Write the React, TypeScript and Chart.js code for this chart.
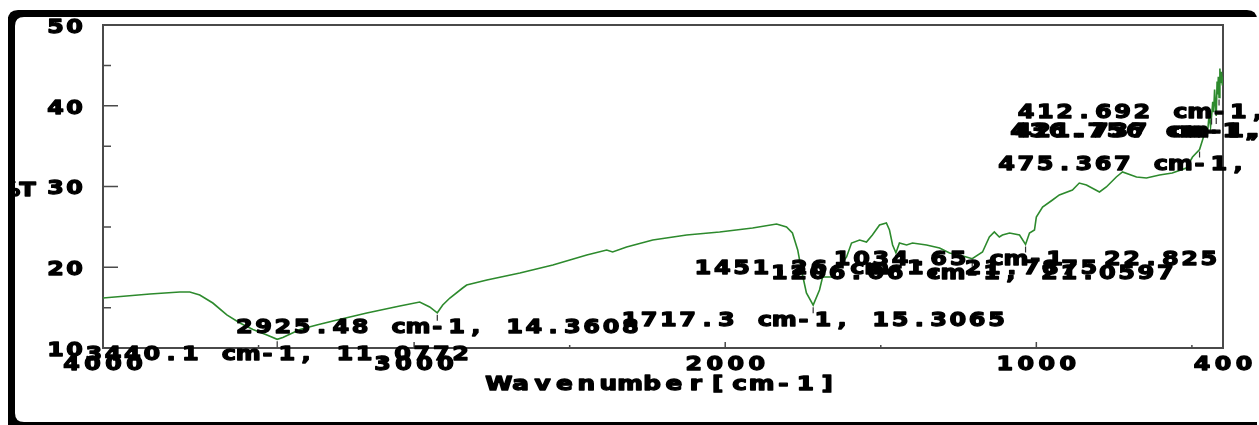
import { useEffect, useRef } from "react";
import { Chart, registerables } from "chart.js";

Chart.register(...registerables);

const W = 1259;
const H = 425;

// IR spectrum, wavenumber (cm-1) against transmittance (%T)
const wavenumbers = [
  4000, 3849, 3753, 3721, 3689, 3647, 3602, 3560, 3518, 3473,
  3440.1, 3422, 3367, 3313, 3261, 3152, 3046, 2982, 2950, 2925.48,
  2908, 2885, 2844, 2831, 2766, 2660, 2554, 2445, 2381, 2362,
  2317, 2233, 2124, 2018, 1912, 1835, 1803, 1784, 1767, 1755,
  1739, 1717.3, 1697, 1687, 1655, 1610, 1594, 1568, 1546, 1527,
  1504, 1482, 1472, 1462, 1451.26, 1440, 1417, 1398, 1353, 1311,
  1279, 1247, 1225, 1206.06, 1173, 1151, 1135, 1119, 1109, 1086,
  1054, 1034.65, 1022, 1006, 1000, 980, 948, 926, 884, 862,
  839, 797, 775, 743, 723, 678, 646, 604, 563, 518,
  498, 475.367, 454, 450, 445, 440, 436.756, 433, 430, 427,
  425, 421.737, 419, 417, 415, 412.692, 410, 408, 405, 402,
  400,
];

const transmittance = [
  16.19, 16.69, 16.93, 16.93, 16.56, 15.57, 14.09, 13.1, 12.3, 11.6,
  11.0772, 11.3, 12.3, 12.85, 13.34, 14.33, 15.2, 15.7, 15.08, 14.3608,
  15.33, 16.19, 17.43, 17.8, 18.42, 19.29, 20.28, 21.52, 22.14, 21.89,
  22.51, 23.37, 23.99, 24.37, 24.86, 25.36, 24.98, 24.24, 22.14, 19.66,
  16.81, 15.3065, 17.18, 18.79, 18.79, 21.27, 23.0, 23.37, 23.13, 23.99,
  25.23, 25.48, 24.61, 22.76, 21.7875, 23.0, 22.76, 23.0, 22.76, 22.38,
  21.76, 21.52, 21.27, 21.0597, 21.89, 23.75, 24.37, 23.75, 23.99, 24.24,
  23.99, 22.825, 24.24, 24.61, 26.22, 27.46, 28.33, 28.95, 29.57, 30.43,
  30.19, 29.32, 29.94, 31.18, 31.8, 31.18, 31.05, 31.42, 31.67, 32.29,
  33.65, 34.5829, 37.2, 36.5, 38.8, 37.4, 38.6712, 40.5, 39.2, 42.0,
  40.6, 38.7347, 43.0, 41.4, 43.6, 41.0213, 44.6, 42.8, 44.2, 42.5,
  43.6,
];

// picked peaks that get a "wavenumber, %T" annotation
const peakWavenumbers = [
  3440.1, 2925.48, 1717.3, 1451.26, 1206.06, 1034.65, 475.367, 436.756, 421.737, 412.692,
];

const xTickValues = [4000, 3000, 2000, 1000, 400];
const xTickLabels = ["4000", "3000", "2000", "1000", "400"];
const xMajorMarks = [3000, 2000, 1000];
const xMinorMarks = [3500, 2500, 1500, 500];
const yTickValues = [10, 20, 30, 40, 50];
const yTickLabels = ["10", "20", "30", "40", "50"];
const yMajorMarks = [20, 30, 40];
const yMinorMarks = [15, 25, 35, 45];
const xAxisTitle = "Wavenumber[cm-1]";
const yAxisTitle = "%T";

const LINE_COLOR = "#2d8a2d";
const AXIS_COLOR = "#4a4a4a";
const TEXT_FONT = "bold 20px 'DejaVu Sans'";
const TICK_FONT = "bold 19px 'DejaVu Sans'";

// Draws heavy text in fixed-width cells, glyphs widened horizontally
function drawSpaced(
  ctx: CanvasRenderingContext2D,
  text: string,
  cx: number,
  cy: number,
  advance: number,
  font: string,
  sx: number
) {
  ctx.save();
  ctx.font = font;
  ctx.fillStyle = "#000";
  ctx.strokeStyle = "#000";
  ctx.lineWidth = 1.3;
  ctx.lineJoin = "round";
  ctx.textAlign = "center";
  ctx.textBaseline = "middle";
  const total = text.length * advance;
  const x0 = cx - total / 2 + advance / 2;
  for (let i = 0; i < text.length; i++) {
    const ch = text[i];
    if (ch === " ") continue;
    ctx.save();
    ctx.translate(x0 + i * advance, cy);
    ctx.scale(sx, 1);
    ctx.fillText(ch, 0, 0);
    ctx.strokeText(ch, 0, 0);
    ctx.restore();
  }
  ctx.restore();
}

function roundRectPath(ctx: CanvasRenderingContext2D, x: number, y: number, w: number, h: number, r: number) {
  ctx.beginPath();
  ctx.moveTo(x + r, y);
  ctx.lineTo(x + w - r, y);
  ctx.quadraticCurveTo(x + w, y, x + w, y + r);
  ctx.lineTo(x + w, y + h - r);
  ctx.quadraticCurveTo(x + w, y + h, x + w - r, y + h);
  ctx.lineTo(x + r, y + h);
  ctx.quadraticCurveTo(x, y + h, x, y + h - r);
  ctx.lineTo(x, y + r);
  ctx.quadraticCurveTo(x, y, x + r, y);
  ctx.closePath();
}

const framePlugin = {
  id: "frame",
  beforeDraw(chart: any) {
    const ctx: CanvasRenderingContext2D = chart.ctx;
    ctx.save();
    ctx.fillStyle = "#fff";
    ctx.fillRect(0, 0, W, H);
    ctx.fillStyle = "#000";
    roundRectPath(ctx, 8, 10, 1249, 430, 10);
    ctx.fill();
    ctx.fillStyle = "#fff";
    roundRectPath(ctx, 15, 17, 1250, 405, 9);
    ctx.fill();
    ctx.restore();
  },
  beforeDatasetsDraw(chart: any) {
    const ctx: CanvasRenderingContext2D = chart.ctx;
    const { left, right, top, bottom } = chart.chartArea;
    const xs = chart.scales.x;
    const ys = chart.scales.y;
    ctx.save();
    ctx.strokeStyle = AXIS_COLOR;
    ctx.lineWidth = 2;
    ctx.strokeRect(left, top, right - left, bottom - top);
    ctx.lineWidth = 1.5;
    ctx.beginPath();
    yMajorMarks.forEach((v) => {
      const y = ys.getPixelForValue(v);
      ctx.moveTo(left, y);
      ctx.lineTo(left + 15, y);
    });
    yMinorMarks.forEach((v) => {
      const y = ys.getPixelForValue(v);
      ctx.moveTo(left, y);
      ctx.lineTo(left + 8, y);
    });
    xMajorMarks.forEach((v) => {
      const x = xs.getPixelForValue(v);
      ctx.moveTo(x, bottom);
      ctx.lineTo(x, bottom - 6);
    });
    xMinorMarks.forEach((v) => {
      const x = xs.getPixelForValue(v);
      ctx.moveTo(x, bottom);
      ctx.lineTo(x, bottom - 3);
    });
    ctx.stroke();
    ctx.restore();
  },
  afterDraw(chart: any) {
    const ctx: CanvasRenderingContext2D = chart.ctx;
    const { left, right, bottom } = chart.chartArea;
    const xs = chart.scales.x;
    const ys = chart.scales.y;

    // peak markers
    ctx.save();
    ctx.strokeStyle = "#333";
    ctx.lineWidth = 1.2;
    ctx.beginPath();
    peakWavenumbers.forEach((wn) => {
      const idx = wavenumbers.indexOf(wn);
      const px = xs.getPixelForValue(wn);
      const py = ys.getPixelForValue(transmittance[idx]);
      ctx.moveTo(px, py + 2);
      ctx.lineTo(px, py + 8);
    });
    ctx.stroke();
    ctx.restore();

    // tick labels
    xTickValues.forEach((v, i) => {
      drawSpaced(ctx, xTickLabels[i], xs.getPixelForValue(v), bottom + 17, 21, TICK_FONT, 1.25);
    });
    yTickValues.forEach((v, i) => {
      const label = yTickLabels[i];
      const adv = 19;
      drawSpaced(ctx, label, 84 - (label.length * adv) / 2, ys.getPixelForValue(v) + 3, adv, TICK_FONT, 1.25);
    });

    // axis titles
    drawSpaced(ctx, xAxisTitle, (left + right) / 2, bottom + 37, 21.9, TICK_FONT, 1.3);
    drawSpaced(ctx, yAxisTitle, 37 - yAxisTitle.length * 19 / 2, ys.getPixelForValue(30) + 5, 19, TICK_FONT, 1.25);

    // peak annotations
    peakWavenumbers.forEach((wn) => {
      const idx = wavenumbers.indexOf(wn);
      const val = transmittance[idx];
      const px = xs.getPixelForValue(wn);
      const py = ys.getPixelForValue(val);
      drawSpaced(ctx, `${wn} cm-1, ${val}`, px, py + 15.5, 19.3, TEXT_FONT, 1.2);
    });

    // left edge of the frame sits above the axis title
    ctx.save();
    ctx.fillStyle = "#000";
    ctx.fillRect(8, 17, 7, 405);
    ctx.fillStyle = "#fff";
    ctx.fillRect(0, 0, 8, H);
    ctx.restore();
  },
};

export default function App() {
  const canvasRef = useRef<HTMLCanvasElement | null>(null);

  useEffect(() => {
    const canvas = canvasRef.current;
    if (!canvas) return;
    const points = wavenumbers.map((w, i) => ({ x: w, y: transmittance[i] }));
    const chart = new Chart(canvas, {
      type: "line",
      data: {
        datasets: [
          {
            data: points,
            borderColor: LINE_COLOR,
            borderWidth: 1.6,
            pointRadius: 0,
            tension: 0,
            fill: false,
          },
        ],
      },
      options: {
        animation: false,
        responsive: false,
        maintainAspectRatio: false,
        devicePixelRatio: 1,
        layout: { padding: { left: 103, top: 25, right: 36, bottom: 77 } },
        plugins: { legend: { display: false }, tooltip: { enabled: false } },
        scales: {
          x: { type: "linear", reverse: true, min: 400, max: 4000, display: false },
          y: { type: "linear", min: 10, max: 50, display: false },
        },
      },
      plugins: [framePlugin],
    } as any);
    return () => chart.destroy();
  }, []);

  return (
    <div style={{ position: "fixed", left: 0, top: 0, width: W, height: H, background: "#fff" }}>
      <canvas ref={canvasRef} width={W} height={H} style={{ display: "block", width: W, height: H }} />
    </div>
  );
}
